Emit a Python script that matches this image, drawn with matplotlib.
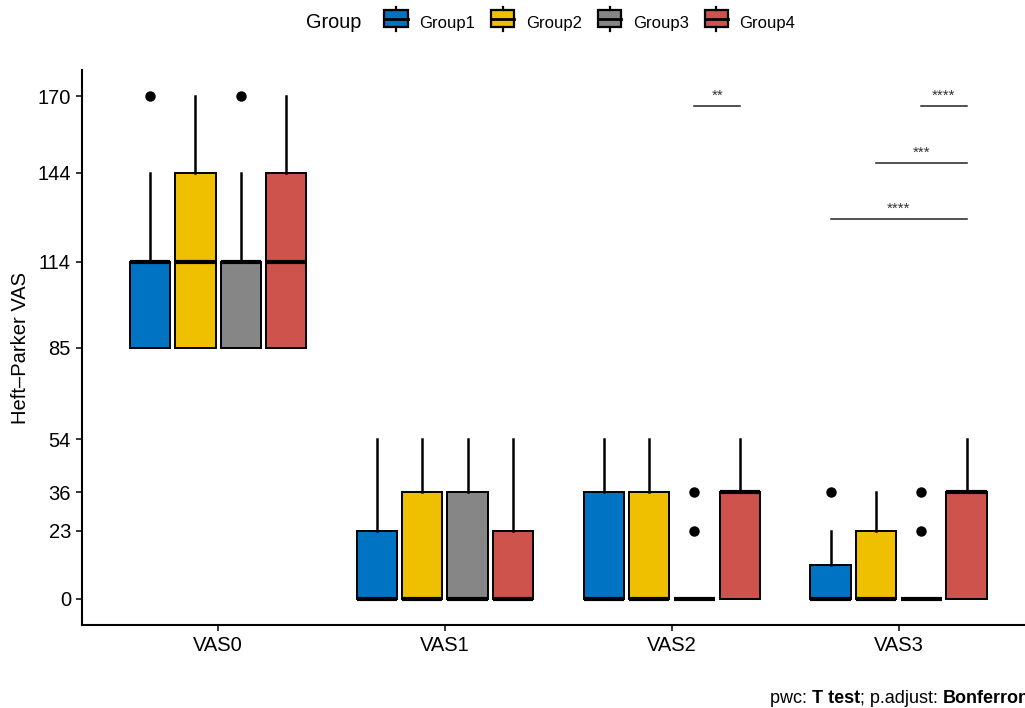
import matplotlib
matplotlib.use("Agg")
import matplotlib.pyplot as plt
from matplotlib.legend_handler import HandlerBase
from matplotlib.patches import Rectangle
from matplotlib.lines import Line2D

plt.rcParams['font.family'] = ['Liberation Sans', 'DejaVu Sans']

# Dados (grupo x visita)
visits = ['VAS0', 'VAS1', 'VAS2', 'VAS3']
groups = ['Group1', 'Group2', 'Group3', 'Group4']
colors = ['#0073C2', '#EFC000', '#868686', '#CD534C']

q1 = [[85, 0, 0, 0], [85, 0, 0, 0], [85, 0, 0, 0], [85, 0, 0, 0]]
med = [[114, 0, 0, 0], [114, 0, 0, 0], [114, 0, 0, 0], [114, 0, 36, 36]]
q3 = [[114, 23, 36, 11.5], [144, 36, 36, 23], [114, 36, 0, 0], [144, 23, 36, 36]]
whis_lo = [[85, 0, 0, 0], [85, 0, 0, 0], [85, 0, 0, 0], [85, 0, 0, 0]]
whis_hi = [[144, 54, 54, 23], [170, 54, 54, 36], [144, 54, 0, 0], [170, 54, 54, 54]]
fliers = [[[170], [], [], [36]], [[], [], [], []], [[170], [], [23, 36], [23, 36]], [[], [], [], []]]

y_ticks = [0, 23, 36, 54, 85, 114, 144, 170]

# comparacoes: (visita, grupo a, grupo b, y, rotulo)
comparisons = [(2, 2, 3, 166.6, '**'),
               (3, 2, 3, 166.6, '****'),
               (3, 1, 3, 147.3, '***'),
               (3, 0, 3, 128.4, '****')]

offsets = [-0.3, -0.1, 0.1, 0.3]
box_w = 0.178

fig = plt.figure(figsize=(10.25, 7.08), dpi=100)
ax = fig.add_axes([0.08, 0.1172, 0.9295, 0.7839])

for g in range(len(groups)):
    stats = []
    for v in range(len(visits)):
        stats.append(dict(q1=q1[g][v], med=med[g][v], q3=q3[g][v],
                          whislo=whis_lo[g][v], whishi=whis_hi[g][v],
                          fliers=fliers[g][v]))
    pos = [v + 1 + offsets[g] for v in range(len(visits))]
    ax.bxp(stats, positions=pos, widths=box_w, patch_artist=True,
           showcaps=False,
           boxprops=dict(facecolor=colors[g], edgecolor='black', linewidth=1.4),
           medianprops=dict(color='black', linewidth=3, solid_capstyle='butt'),
           whiskerprops=dict(color='black', linewidth=1.8),
           flierprops=dict(marker='o', markerfacecolor='black', markeredgecolor='black',
                           markersize=6.5))

for v, a, b, y, lab in comparisons:
    xa = v + 1 + offsets[a]
    xb = v + 1 + offsets[b]
    ax.plot([xa, xb], [y, y], color='#222222', linewidth=1.1)
    ax.text((xa + xb) / 2, y + 1.2, lab, ha='center', va='bottom', fontsize=11, color='#333333')

ax.set_xlim(0.4, 4.6)
ax.set_ylim(-8.8, 178.8)
ax.set_xticks(range(1, len(visits) + 1))
ax.set_xticklabels(visits)
ax.set_yticks(y_ticks)
ax.set_ylabel('Heft–Parker VAS', fontsize=14.5, labelpad=5)
ax.tick_params(axis='both', labelsize=14.5, color='black', labelcolor='black', length=4.5, width=1.1)
for s in ['top', 'right']:
    ax.spines[s].set_visible(False)
for s in ['left', 'bottom']:
    ax.spines[s].set_linewidth(1.5)


# Glifo de boxplot na legenda
class BoxHandler(HandlerBase):
    def create_artists(self, legend, orig, xd, yd, w, h, fs, trans):
        cy = yd + h / 2
        bh = h * 1.14
        r = Rectangle((xd, cy - bh / 2), w, bh,
                      facecolor=orig.get_facecolor(), edgecolor='black', linewidth=1.6,
                      transform=trans)
        m = Line2D([xd, xd + w], [cy, cy], color='black', linewidth=2, transform=trans)
        t = Line2D([xd + w / 2, xd + w / 2], [cy + bh / 2, cy + h * 0.8], color='black', linewidth=1.6, transform=trans)
        bt = Line2D([xd + w / 2, xd + w / 2], [cy - bh / 2, cy - h * 0.8], color='black', linewidth=1.6, transform=trans)
        return [r, m, t, bt]


handles = [Rectangle((0, 0), 1, 1, facecolor=c) for c in colors]
fig.text(306 / 1025, 1 - 23 / 708, 'Group', fontsize=14.3, ha='left', va='center')
fig.legend(handles, groups, handler_map={Rectangle: BoxHandler()}, loc='center left',
           bbox_to_anchor=(376 / 1025, 1 - 23 / 708), ncol=4, frameon=False, fontsize=12,
           handlelength=1.4, handleheight=1.0, handletextpad=0.7, columnspacing=0.95, borderpad=0)

# Legenda inferior
t1 = fig.text(770 / 1025, 1 - 703 / 708, 'pwc: ', fontsize=13, ha='left', va='baseline')
t2 = ax.annotate('T test', xy=(1, 0), xycoords=t1, fontsize=13, fontweight='bold', va='bottom')
t3 = ax.annotate('; p.adjust: ', xy=(1, 0), xycoords=t2, fontsize=13, va='bottom')
t4 = ax.annotate('Bonferroni', xy=(1, 0), xycoords=t3, fontsize=13, fontweight='bold', va='bottom')
for t in [t2, t3, t4]:
    t.set_annotation_clip(False)

fig.savefig('out.png', dpi=100)
